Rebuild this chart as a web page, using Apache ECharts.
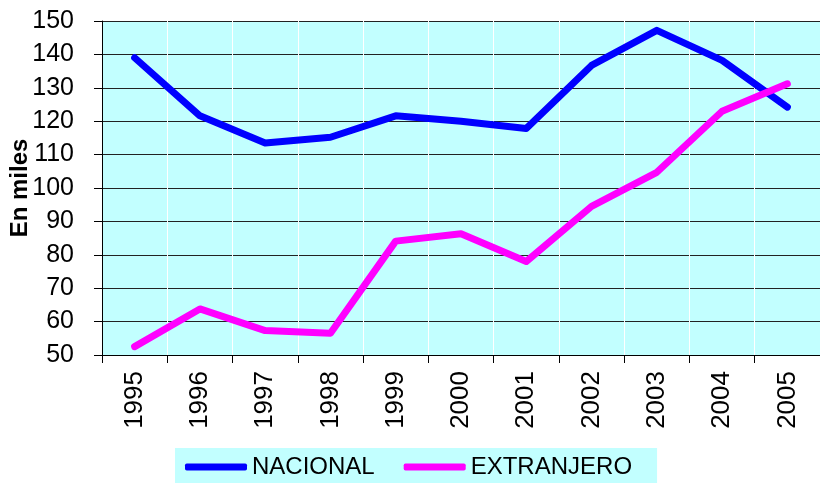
<!DOCTYPE html>
<html><head><meta charset="utf-8">
<script src="https://cdn.jsdelivr.net/npm/echarts@6/dist/echarts.min.js"></script>
<style>html,body{margin:0;padding:0;background:#fff}#c{width:820px;height:483px}</style>
</head><body><div id="c"></div>
<script>
const years = ['1995','1996','1997','1998','1999','2000','2001','2002','2003','2004','2005'];
const nacional = [139, 121.6, 113.5, 115.2, 121.6, 120, 117.8, 136.7, 147.2, 138.2, 124.2];
const extranjero = [52.5, 63.8, 57.3, 56.5, 84.1, 86.3, 78, 94.5, 104.7, 123, 131.2];
const yTicks = {min: 50, max: 150, interval: 10};

const chart = echarts.init(document.getElementById('c'));
chart.setOption({
  animation: false,
  textStyle: {fontFamily: 'Liberation Sans, Arial, sans-serif'},
  grid: {left: 102, right: 0, top: 21, bottom: 128, show: true, backgroundColor: '#C2FFFF', borderWidth: 0,
         containLabel: false, outerBoundsMode: 'none'},
  legend: {
    bottom: 0, left: 175, itemWidth: 62, itemHeight: 7, itemGap: 29,
    backgroundColor: '#C2FFFF', padding: [7, 25, 4, 10],
    textStyle: {fontSize: 24, color: '#000', fontFamily: 'Liberation Sans, Arial, sans-serif'},
    data: [{name: 'NACIONAL', icon: 'roundRect'}, {name: 'EXTRANJERO', icon: 'roundRect'}]
  },
  xAxis: {
    type: 'category', data: years, boundaryGap: true,
    axisLine: {lineStyle: {color: '#000', width: 1}},
    axisTick: {show: true, length: 8, interval: 0, lineStyle: {color: '#000'}},
    axisLabel: {rotate: 90, fontSize: 26, color: '#000', margin: 16, interval: 0},
    splitLine: {show: true, interval: 0, lineStyle: {color: '#fff', width: 1}}
  },
  yAxis: {
    type: 'value', min: yTicks.min, max: yTicks.max, interval: yTicks.interval,
    name: 'En miles', nameLocation: 'middle', nameGap: 70, nameRotate: 90, nameMoveOverlap: false,
    nameTextStyle: {fontSize: 24, fontWeight: 'bold', color: '#000'},
    axisLine: {show: true, lineStyle: {color: '#000'}},
    axisTick: {show: true, length: 8, lineStyle: {color: '#000'}},
    axisLabel: {fontSize: 25, color: '#000', margin: 28},
    splitLine: {show: true, lineStyle: {color: '#222', width: 1}}
  },
  series: [
    {name: 'NACIONAL', type: 'line', data: nacional, symbol: 'none', color: '#0000FF',
     lineStyle: {width: 7, color: '#0000FF', cap: 'round', join: 'round'}},
    {name: 'EXTRANJERO', type: 'line', data: extranjero, symbol: 'none', color: '#FF00FF',
     lineStyle: {width: 7, color: '#FF00FF', cap: 'round', join: 'round'}}
  ]
});
</script></body></html>
